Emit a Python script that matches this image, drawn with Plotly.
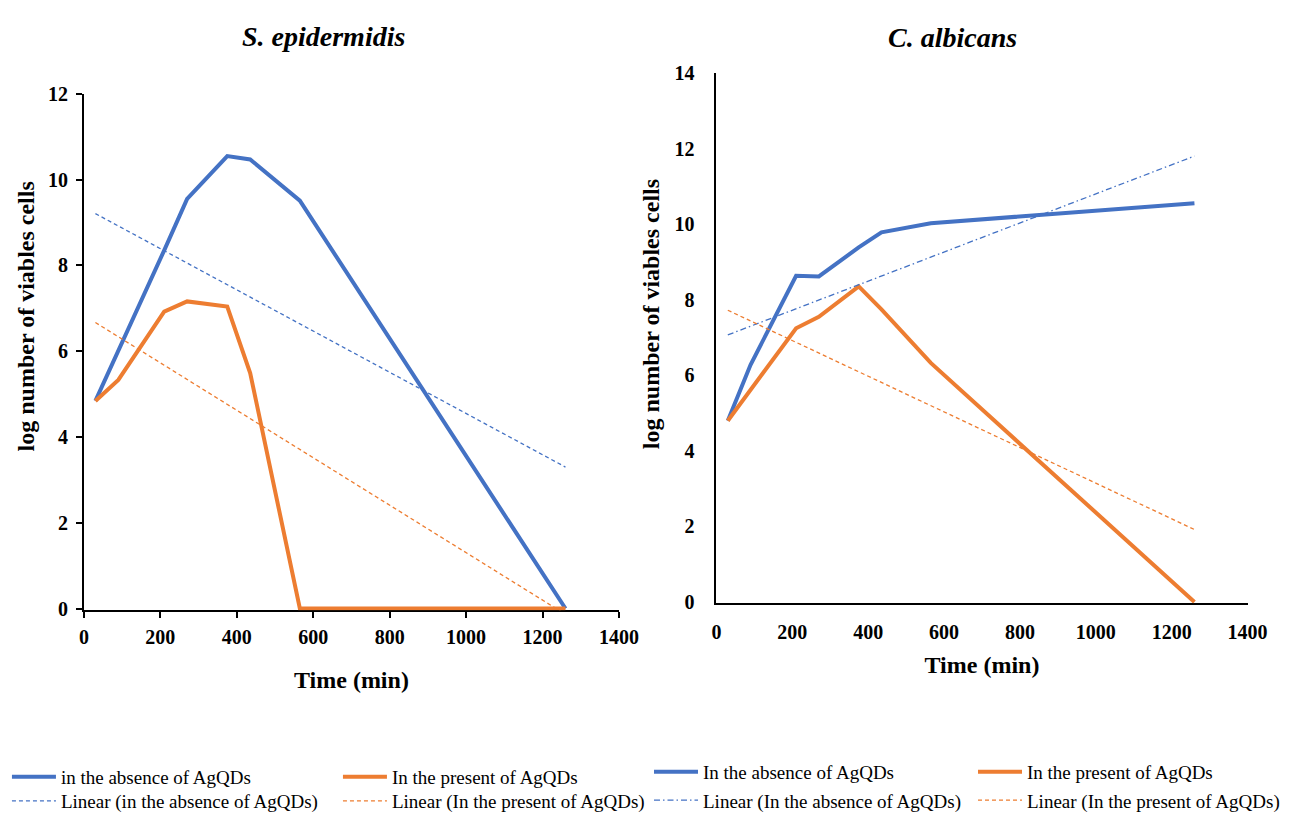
import numpy as np
import plotly.graph_objects as go

# ---------------- data ----------------
time_min = [30, 90, 210, 270, 375, 435, 565, 1260]

se_absent = [4.84, 6.00, 8.35, 9.55, 10.55, 10.47, 9.51, 0.0]
se_present = [4.84, 5.33, 6.92, 7.16, 7.04, 5.49, 0.0, 0.0]

ca_absent = [4.80, 6.28, 8.64, 8.62, 9.39, 9.79, 10.03, 10.56]
ca_present = [4.80, 5.62, 7.25, 7.55, 8.36, 7.75, 6.33, 0.0]

x_ticks = [0, 200, 400, 600, 800, 1000, 1200, 1400]
se_y_ticks = [0, 2, 4, 6, 8, 10, 12]
ca_y_ticks = [0, 2, 4, 6, 8, 10, 12, 14]

titles = ["S. epidermidis", "C. albicans"]
y_title = "log number of viables cells"
x_title = "Time (min)"

BLUE = "#4472C4"
ORANGE = "#ED7D31"
FONT = "Liberation Serif"


def trend(xs, ys):
    slope, intercept = np.polyfit(xs, ys, 1)
    ends = [xs[0], xs[-1]]
    return ends, [slope * e + intercept for e in ends]


fig = go.Figure()

# ---------------- left: S. epidermidis ----------------
fig.add_trace(go.Scatter(x=time_min, y=se_absent, mode="lines",
                         line=dict(color=BLUE, width=4),
                         name="in the absence of AgQDs",
                         xaxis="x", yaxis="y", legend="legend"))
fig.add_trace(go.Scatter(x=time_min, y=se_present, mode="lines",
                         line=dict(color=ORANGE, width=4),
                         name="In the present of AgQDs",
                         xaxis="x", yaxis="y", legend="legend"))
tx, ty = trend(time_min, se_absent)
fig.add_trace(go.Scatter(x=tx, y=ty, mode="lines",
                         line=dict(color=BLUE, width=1.3, dash="4px,3px"),
                         name="Linear (in the absence of AgQDs)",
                         xaxis="x", yaxis="y", legend="legend2"))
tx, ty = trend(time_min, se_present)
fig.add_trace(go.Scatter(x=tx, y=ty, mode="lines",
                         line=dict(color=ORANGE, width=1.3, dash="4px,3px"),
                         name="Linear (In the present of AgQDs)",
                         xaxis="x", yaxis="y", legend="legend2"))

# ---------------- right: C. albicans ----------------
fig.add_trace(go.Scatter(x=time_min, y=ca_absent, mode="lines",
                         line=dict(color=BLUE, width=4),
                         name="In the absence of AgQDs",
                         xaxis="x2", yaxis="y2", legend="legend3"))
fig.add_trace(go.Scatter(x=time_min, y=ca_present, mode="lines",
                         line=dict(color=ORANGE, width=4),
                         name="In the present of AgQDs",
                         xaxis="x2", yaxis="y2", legend="legend3"))
tx, ty = trend(time_min, ca_absent)
fig.add_trace(go.Scatter(x=tx, y=ty, mode="lines",
                         line=dict(color=BLUE, width=1.3, dash="6px,3px,1.5px,3px"),
                         name="Linear (In the absence of AgQDs)",
                         xaxis="x2", yaxis="y2", legend="legend4"))
tx, ty = trend(time_min, ca_present)
fig.add_trace(go.Scatter(x=tx, y=ty, mode="lines",
                         line=dict(color=ORANGE, width=1.3, dash="4px,3px"),
                         name="Linear (In the present of AgQDs)",
                         xaxis="x2", yaxis="y2", legend="legend4"))

W, H = 1297, 820
tickfont = dict(family=FONT, size=20, color="black", weight="bold")
xtitlefont = dict(family=FONT, size=24, color="black", weight="bold")

common_x = dict(range=[0, 1400], tickvals=x_ticks, showgrid=False, zeroline=False,
                showline=True, linecolor="black", linewidth=2, tickfont=tickfont,
                layer="below traces")
common_y = dict(showgrid=False, zeroline=False, showline=True, linecolor="black",
                linewidth=2, tickfont=tickfont, layer="below traces")

legend_common = dict(orientation="h", font=dict(family=FONT, size=19, color="black"),
                     bgcolor="rgba(0,0,0,0)", xanchor="left", yanchor="middle",
                     entrywidthmode="pixels", itemwidth=44, tracegroupgap=0)

fig.update_layout(
    width=W, height=H,
    margin=dict(l=0, r=0, t=0, b=0),
    paper_bgcolor="white", plot_bgcolor="white",
    font=dict(family=FONT, color="black"),
    xaxis=dict(domain=[81 / W, 630 / W], anchor="y", ticks="outside", ticklen=6,
               tickwidth=1.5, tickcolor="black", ticklabelstandoff=2,
               title=dict(text=x_title, font=xtitlefont, standoff=24), **common_x),
    yaxis=dict(domain=[1 - 615 / H, 1 - 85 / H], anchor="x", range=[-0.04, 12],
               tickvals=se_y_ticks, ticks="outside", ticklen=6, tickwidth=1.5,
               tickcolor="black", ticklabelstandoff=4, **common_y),
    xaxis2=dict(domain=[730 / W, 1275 / W], anchor="y2", ticks="",
                ticklabelstandoff=10,
                title=dict(text=x_title, font=xtitlefont, standoff=14), **common_x),
    yaxis2=dict(domain=[1 - 608 / H, 1 - 64 / H], anchor="x2", range=[-0.04, 14],
                tickvals=ca_y_ticks, ticks="", ticklabelstandoff=16, **common_y),
    legend=dict(x=2 / W, y=1 - 786 / H, entrywidth=272, **legend_common),
    legend2=dict(x=2 / W, y=1 - 811 / H, entrywidth=272, **legend_common),
    legend3=dict(x=661 / W, y=1 - 781 / H, entrywidth=265, **legend_common),
    legend4=dict(x=661 / W, y=1 - 810 / H, entrywidth=265, **legend_common),
    annotations=[
        dict(text="<b><i>%s</i></b>" % titles[0], x=327 / W, y=1 - 26 / H,
             xref="paper", yref="paper", showarrow=False, xanchor="center",
             yanchor="middle", font=dict(family=FONT, size=28, color="black")),
        dict(text="<b><i>%s</i></b>" % titles[1], x=972 / W, y=1 - 27 / H,
             xref="paper", yref="paper", showarrow=False, xanchor="center",
             yanchor="middle", font=dict(family=FONT, size=28, color="black")),
        dict(text="<b>%s</b>" % y_title, x=22 / W, y=1 - 313 / H, textangle=-90,
             xref="paper", yref="paper", showarrow=False, xanchor="center",
             yanchor="middle", font=dict(family=FONT, size=24, color="black")),
        dict(text="<b>%s</b>" % y_title, x=663 / W, y=1 - 311 / H, textangle=-90,
             xref="paper", yref="paper", showarrow=False, xanchor="center",
             yanchor="middle", font=dict(family=FONT, size=24, color="black")),
    ],
)

fig.write_html("out.html")
